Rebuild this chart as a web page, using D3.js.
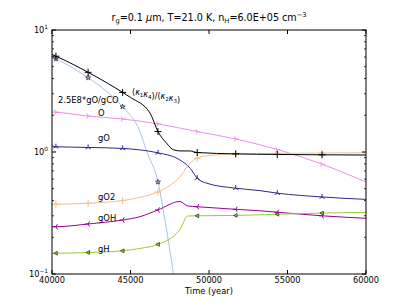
<!DOCTYPE html>
<html>
<head>
<meta charset="utf-8">
<script src="https://cdn.jsdelivr.net/npm/d3@7"></script>
<style>
  body { margin: 0; background: #fff; }
  text { font-family: "DejaVu Sans", sans-serif; fill: #000; }
</style>
</head>
<body>
<div id="chart"></div>
<script>
const width = 407;
const height = 305;
const margin = { top: 30, right: 41, bottom: 31, left: 52 };

// data: [time (year), value]
const markerTimes = [40250, 42300, 44500, 46750, 49250, 51700, 54350, 57200];
const xTicks = [40000, 45000, 50000, 55000, 60000];

const kappaRatio = [[40000, 6.3], [40250, 6.1], [42300, 4.5], [44500, 3.08], [45000, 2.8], [46250, 2.08],
  [46750, 1.47], [47300, 1.18], [47750, 1.04], [48200, 1.02], [48800, 1.02], [49250, 0.99],
  [51700, 0.965], [54350, 0.955], [57200, 0.948], [60000, 0.945]];
const gOgCO = [[40000, 6.0], [40250, 5.8], [42300, 4.06], [43400, 3.2], [44500, 2.35], [45600, 1.47],
  [46000, 1.04], [46750, 0.568], [47300, 0.229], [47730, 0.1], [47800, 0.085]];
const O = [[40000, 2.13], [40250, 2.12], [42300, 1.97], [44500, 1.865], [46750, 1.70], [49250, 1.47],
  [51700, 1.278], [54350, 1.048], [57200, 0.794], [60000, 0.568]];
const gO = [[40000, 1.12], [40250, 1.105], [42300, 1.09], [44500, 1.07], [45600, 1.04], [46750, 0.985],
  [48150, 0.86], [48800, 0.735], [49250, 0.61], [49850, 0.555], [51700, 0.505], [53250, 0.482],
  [54350, 0.46], [57200, 0.428], [60000, 0.409]];
const gO2 = [[40000, 0.372], [40250, 0.373], [42300, 0.38], [44500, 0.40], [45600, 0.425], [46750, 0.47],
  [48150, 0.627], [48800, 0.81], [49250, 0.89], [49850, 0.93], [51700, 0.963], [54350, 0.975],
  [57200, 0.98], [60000, 0.987]];
const gOH = [[40000, 0.244], [40250, 0.244], [42300, 0.257], [44500, 0.277], [45600, 0.295], [46750, 0.335],
  [48150, 0.393], [48650, 0.361], [49250, 0.356], [51700, 0.339], [53250, 0.330], [54350, 0.321],
  [57200, 0.300], [60000, 0.286]];
const gH = [[40000, 0.148], [40250, 0.148], [42300, 0.150], [44500, 0.155], [45600, 0.162], [46750, 0.175],
  [48150, 0.232], [48650, 0.299], [49250, 0.300], [51700, 0.302], [54350, 0.309], [57200, 0.316],
  [60000, 0.32]];

const series = [
  { name: "gOgCO", data: gOgCO, color: "#a8c4e6", marker: "star" },
  { name: "O", data: O, color: "#e890e6", marker: "triright" },
  { name: "gO", data: gO, color: "#2a2a8c", marker: "triup" },
  { name: "gO2", data: gO2, color: "#f0c090", marker: "plus" },
  { name: "gOH", data: gOH, color: "#990099", marker: "trileft" },
  { name: "gH", data: gH, color: "#99cc33", marker: "tri" },
  { name: "kappa", data: kappaRatio, color: "#000000", marker: "plus" }
];

const labels = [
  { text: "2.5E8*gO/gCO", x: 58, y: 103 },
  { text: "O", x: 98, y: 116 },
  { text: "gO", x: 98, y: 141 },
  { text: "gO2", x: 98, y: 200 },
  { text: "gOH", x: 98, y: 221 },
  { text: "gH", x: 98, y: 252 }
];

const svg = d3.select("#chart").append("svg")
  .attr("width", width)
  .attr("height", height);

const x = d3.scaleLinear().domain([40000, 60000]).range([margin.left, width - margin.right]);
const y = d3.scaleLog().domain([0.1, 10]).range([height - margin.bottom, margin.top]);

svg.append("clipPath").attr("id", "plot-clip")
  .append("rect")
  .attr("x", x(40000)).attr("y", y(10))
  .attr("width", x(60000) - x(40000)).attr("height", y(0.1) - y(10));

const line = d3.line()
  .x(d => x(d[0]))
  .y(d => y(d[1]))
  .curve(d3.curveMonotoneX);

const plot = svg.append("g").attr("clip-path", "url(#plot-clip)");

function markerPath(kind) {
  const s = 3;
  const a = s * 0.866, b = s * 0.5;
  if (kind === "plus") return `M-3.5,0H3.5M0,-3.5V3.5`;
  if (kind === "triup") return `M0,0V${-s}M0,0L${-a},${b}M0,0L${a},${b}`;
  if (kind === "triright") return `M0,0H${s}M0,0L${-b},${-a}M0,0L${-b},${a}`;
  if (kind === "trileft") return `M0,0H${-s}M0,0L${b},${-a}M0,0L${b},${a}`;
  if (kind === "tri") return `M-2.2,0L1.4,-1.9L1.4,1.9Z`;
  return d3.symbol(d3.symbolStar, 8)();
}

series.forEach(s => {
  plot.append("path")
    .datum(s.data)
    .attr("fill", "none")
    .attr("stroke", s.color)
    .attr("stroke-width", 1)
    .attr("d", line);

  const pts = s.data.filter(d => markerTimes.includes(d[0]) && d[1] >= 0.1);
  const filled = s.marker === "star" || s.marker === "tri";
  plot.selectAll(null)
    .data(pts)
    .join("path")
    .attr("transform", d => `translate(${x(d[0])},${y(d[1])})`)
    .attr("d", markerPath(s.marker))
    .attr("fill", filled ? s.color : "none")
    .attr("stroke", filled ? "#222" : s.color)
    .attr("stroke-width", filled ? 0.7 : 1);
});

// curve labels
labels.forEach(l => {
  svg.append("text")
    .attr("x", l.x).attr("y", l.y)
    .attr("font-size", 8.4)
    .text(l.text);
});

// (κ1κ4)/(κ2κ3) label in math style
const kt = svg.append("text").attr("x", 132).attr("y", 95).attr("font-size", 8);
const kParts = [["(", null], ["κ", "1"], ["κ", "4"], [")/(", null], ["κ", "2"], ["κ", "3"], [")", null]];
kParts.forEach(p => {
  if (p[1] === null) {
    kt.append("tspan").attr("dy", 0).text(p[0]);
  } else {
    kt.append("tspan").attr("font-style", "italic").text(p[0]);
    kt.append("tspan").attr("font-size", 5.5).attr("dy", 2).text(p[1]);
    kt.append("tspan").attr("dy", -2).text("");
  }
});

// frame
const x0 = x(40000), x1 = x(60000), y0 = y(0.1), y1 = y(10);
svg.append("rect")
  .attr("x", x0).attr("y", y1)
  .attr("width", x1 - x0).attr("height", y0 - y1)
  .attr("fill", "none").attr("stroke", "#000").attr("stroke-width", 1);

// x ticks, inside, top and bottom
xTicks.forEach(t => {
  svg.append("line").attr("x1", x(t)).attr("x2", x(t)).attr("y1", y0).attr("y2", y0 - 4)
    .attr("stroke", "#000");
  svg.append("line").attr("x1", x(t)).attr("x2", x(t)).attr("y1", y1).attr("y2", y1 + 4)
    .attr("stroke", "#000");
  svg.append("text")
    .attr("x", x(t)).attr("y", y0 + 9)
    .attr("text-anchor", "middle")
    .attr("font-size", 8.2)
    .text(t);
});

// y ticks on log axis, major and minor, both sides
const yMajor = [0.1, 1, 10];
const yMinor = [];
[0.1, 1].forEach(dec => { for (let k = 2; k <= 9; k++) yMinor.push(dec * k); });

yMajor.forEach(v => {
  svg.append("line").attr("x1", x0).attr("x2", x0 + 4).attr("y1", y(v)).attr("y2", y(v)).attr("stroke", "#000");
  svg.append("line").attr("x1", x1).attr("x2", x1 - 4).attr("y1", y(v)).attr("y2", y(v)).attr("stroke", "#000");
  const lab = svg.append("text")
    .attr("x", x0 - 4).attr("y", y(v) + 3)
    .attr("text-anchor", "end")
    .attr("font-size", 8.2);
  lab.append("tspan").text("10");
  lab.append("tspan").attr("font-size", 5.8).attr("dy", -4).text(Math.round(Math.log10(v)) === -1 ? "−1" : Math.round(Math.log10(v)));
});
yMinor.forEach(v => {
  svg.append("line").attr("x1", x0).attr("x2", x0 + 2).attr("y1", y(v)).attr("y2", y(v)).attr("stroke", "#000").attr("stroke-width", 0.8);
  svg.append("line").attr("x1", x1).attr("x2", x1 - 2).attr("y1", y(v)).attr("y2", y(v)).attr("stroke", "#000").attr("stroke-width", 0.8);
});

// axis title
svg.append("text")
  .attr("x", (x0 + x1) / 2).attr("y", 294)
  .attr("text-anchor", "middle")
  .attr("font-size", 8.3)
  .text("Time (year)");

// chart title
const title = svg.append("text")
  .attr("x", (x0 + x1) / 2).attr("y", 21)
  .attr("text-anchor", "middle")
  .attr("font-size", 9.6);
title.append("tspan").text("r");
title.append("tspan").attr("font-size", 6.7).attr("dy", 2).text("g");
title.append("tspan").attr("dy", -2).text("=0.1 ");
title.append("tspan").attr("font-style", "italic").text("μ");
title.append("tspan").text("m, T=21.0 K, n");
title.append("tspan").attr("font-size", 6.7).attr("dy", 2).text("H");
title.append("tspan").attr("dy", -2).text("=6.0E+05 cm");
title.append("tspan").attr("font-size", 6.7).attr("dy", -4).text("−3");
</script>
</body>
</html>
